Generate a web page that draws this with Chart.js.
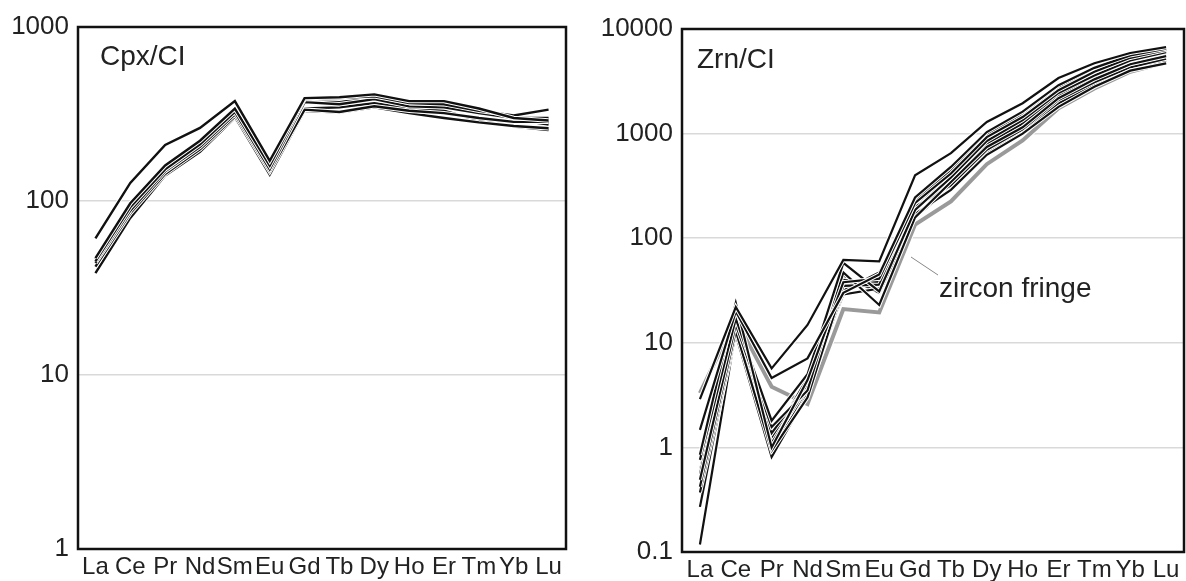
<!DOCTYPE html>
<html>
<head>
<meta charset="utf-8">
<script src="https://cdn.jsdelivr.net/npm/chart.js@4.4.1/dist/chart.umd.min.js"></script>
<style>
  body { margin: 0; background: #fff; }
  .painel { position: absolute; top: 0; height: 581px; }
  #painelCpx { left: 0; width: 590px; }
  #painelZrn { left: 590px; width: 596px; }
</style>
</head>
<body>
<div class="painel" id="painelCpx"><canvas id="graficoCpx"></canvas></div>
<div class="painel" id="painelZrn"><canvas id="graficoZrn"></canvas></div>
<script>
const elementos = ["La", "Ce", "Pr", "Nd", "Sm", "Eu", "Gd", "Tb", "Dy", "Ho", "Er", "Tm", "Yb", "Lu"];
const cpxTicks = [1, 10, 100, 1000];
const zrnTicks = [0.1, 1, 10, 100, 1000, 10000];

// clinopyroxene / chondrite
const cpx1 = [61, 127, 210, 263, 375, 170, 390, 395, 410, 375, 375, 340, 300, 290];
const cpx2 = [47, 97, 160, 222, 340, 160, 385, 390, 400, 365, 360, 330, 310, 335];
const cpx3 = [45, 92, 152, 212, 325, 152, 370, 360, 385, 350, 345, 320, 300, 300];
const cpx4 = [44, 88, 148, 205, 315, 148, 335, 325, 350, 330, 320, 300, 285, 285];
const cpx5 = [42, 85, 143, 198, 305, 142, 330, 322, 345, 320, 300, 283, 270, 262];
const cpx6 = [38.5, 80, 140, 192, 300, 145, 340, 345, 365, 340, 330, 290, 268, 256];
const cpx7 = [46, 90, 150, 208, 330, 165, 380, 370, 395, 370, 365, 335, 295, 275];

// zircon / chondrite
const zrn1 = [2.9, 22, 5.7, 14.8, 62, 60, 400, 650, 1290, 1950, 3400, 4700, 5900, 6700];
const zrn2 = [1.47, 20, 4.6, 7.1, 30, 45, 245, 480, 1035, 1620, 2900, 4250, 5600, 6500];
const zrn3 = [0.85, 24, 1.0, 4.4, 38, 41, 217, 415, 925, 1440, 2600, 3900, 5300, 6300];
const zrn4 = [0.76, 17, 1.8, 5.0, 58, 31, 186, 380, 850, 1350, 2450, 3600, 5000, 6000];
const zrn5 = [0.49, 15, 1.57, 3.5, 47, 23, 158, 345, 745, 1150, 2180, 3300, 4600, 5500];
const zrn6 = [0.42, 13, 0.93, 3.0, 35, 36, 170, 290, 627, 1000, 1800, 2800, 4000, 4700];
const zrn7 = [0.37, 12, 0.81, 3.2, 31.6, 47, 200, 320, 700, 1100, 2100, 3100, 4300, 5200];
const zrn8 = [0.27, 14, 1.37, 4.0, 40, 38, 230, 440, 980, 1550, 2800, 4100, 5500, 6400];
const zrn9 = [0.118, 13, 1.1, 3.8, 29, 33, 190, 360, 800, 1250, 2300, 3400, 4700, 5600];
const zrn10 = [0.55, 19, 0.95, 3.4, 34, 44, 210, 400, 900, 1400, 2500, 3700, 5100, 6100];
const zrn11 = [0.6, 16, 1.2, 4.6, 44, 30, 160, 300, 650, 1050, 1950, 2900, 4200, 5000];
const zrnFringe = [3.3, 17, 3.8, 2.6, 21, 19.5, 135, 225, 510, 860, 1750, 2700, 3900, 4800];

const fonte = "'Liberation Sans', Arial, sans-serif";

// each line gets a white halo drawn just under it
function linhas(series, cor, largura) {
  const lista = [];
  series.forEach((s) => {
    lista.push({ data: s, borderColor: cor, borderWidth: largura, pointRadius: 0, tension: 0 });
    lista.push({ data: s, borderColor: "#ffffff", borderWidth: largura + 2, pointRadius: 0, tension: 0 });
  });
  return lista;
}

function criarGrafico(id, datasets, ticks, cfg) {
  const moldura = {
    id: "moldura",
    afterDraw(chart) {
      const c = chart.ctx;
      const a = chart.chartArea;
      c.save();
      c.strokeStyle = "#111";
      c.lineWidth = 2.5;
      c.strokeRect(a.left, a.top, a.right - a.left, a.bottom - a.top);
      c.fillStyle = "#222";
      c.font = "28px " + fonte;
      c.textBaseline = "alphabetic";
      c.fillText(cfg.titulo, cfg.tituloX, cfg.tituloY);
      if (cfg.extra) cfg.extra(c);
      c.restore();
    },
  };

  return new Chart(document.getElementById(id), {
    type: "line",
    data: { labels: elementos, datasets: datasets },
    plugins: [moldura],
    options: {
      responsive: true,
      maintainAspectRatio: false,
      animation: false,
      layout: { padding: { top: cfg.topo, right: cfg.direita, left: 0, bottom: 0 } },
      plugins: { legend: { display: false }, tooltip: { enabled: false } },
      scales: {
        x: {
          type: "category",
          offset: true,
          grid: { display: false, drawTicks: false },
          border: { display: false },
          ticks: {
            autoSkip: false,
            maxRotation: 0,
            padding: 4,
            color: "#222",
            font: { family: fonte, size: 24 },
          },
          afterFit: (s) => { s.height = cfg.alturaX; },
        },
        y: {
          type: "logarithmic",
          min: ticks[0],
          max: ticks[ticks.length - 1],
          border: { display: false },
          grid: { color: "#d9d9d9", lineWidth: 1.5, drawTicks: false },
          ticks: {
            padding: 9,
            color: "#222",
            font: { family: fonte, size: 26 },
            callback: (v) => String(v),
          },
          afterBuildTicks: (s) => { s.ticks = ticks.map((v) => ({ value: v })); },
          afterFit: (s) => { s.width = cfg.larguraY; },
        },
      },
    },
  });
}

criarGrafico("graficoCpx", linhas([cpx1, cpx2, cpx3, cpx4, cpx5, cpx6, cpx7], "#111", 2.4), cpxTicks, {
  topo: 27, direita: 24, alturaX: 32, larguraY: 78,
  titulo: "Cpx/CI", tituloX: 100, tituloY: 65,
});

const zrnDados = linhas([zrn1, zrn2, zrn3, zrn4, zrn5, zrn6, zrn7, zrn8, zrn9, zrn10, zrn11], "#111", 2.2)
  .concat(linhas([zrnFringe], "#9a9a9a", 4));

criarGrafico("graficoZrn", zrnDados, zrnTicks, {
  topo: 29, direita: 2, alturaX: 29, larguraY: 92,
  titulo: "Zrn/CI", tituloX: 107, tituloY: 68,
  extra: (c) => {
    c.strokeStyle = "#888";
    c.lineWidth = 1;
    c.beginPath();
    c.moveTo(321, 257);
    c.lineTo(348, 275);
    c.stroke();
    c.font = "28px " + fonte;
    c.fillText("zircon fringe", 349, 297);
  },
});
</script>
</body>
</html>
